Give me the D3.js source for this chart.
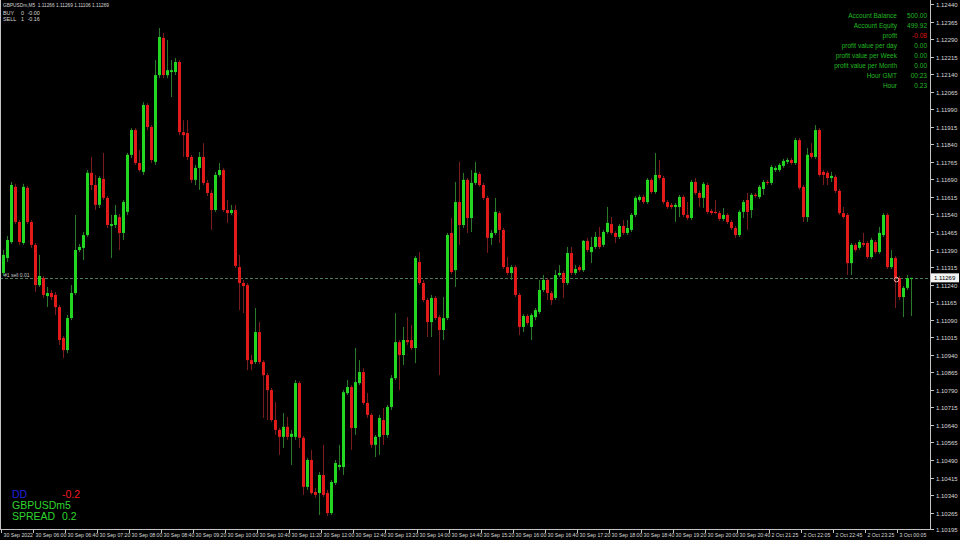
<!DOCTYPE html>
<html><head><meta charset="utf-8">
<script src="https://cdn.jsdelivr.net/npm/d3@7"></script>
<style>html,body{margin:0;padding:0;background:#000;}svg{display:block;}</style>
</head><body>
<script>
// ---- DATA (GBPUSDm, M5) ----
const openP = [
1.11290,1.11354,1.11422,1.11658,1.11508,1.11418,1.11654,1.11508,1.11410,1.11238,
1.11268,1.11191,1.11204,1.11196,1.11144,1.11012,1.10960,1.11097,1.11204,1.11388,
1.11397,1.11452,1.11718,1.11666,1.11581,1.11692,1.11611,1.11491,1.11495,1.11529,
1.11461,1.11551,1.11795,1.11901,1.11760,1.11722,1.12008,1.11914,1.11765,1.12136,
1.12295,1.12136,1.12149,1.12149,1.12192,1.11892,1.11888,1.11786,1.11688,1.11739,
1.11786,1.11675,1.11632,1.11559,1.11709,1.11730,1.11559,1.11546,1.11559,1.11315,
1.11247,1.11238,1.10917,1.10909,1.11037,1.10909,1.10853,1.10789,1.10661,1.10619,
1.10589,1.10632,1.10589,1.10589,1.10819,1.10585,1.10375,1.10490,1.10353,1.10349,
1.10426,1.10349,1.10263,1.10392,1.10460,1.10460,1.10776,1.10802,1.10627,1.10819,
1.10866,1.10734,1.10683,1.10555,1.10589,1.10661,1.10597,1.10717,1.10840,1.10994,
1.10939,1.11003,1.11003,1.10969,1.11337,1.11247,1.11174,1.11080,1.11183,1.11101,
1.11046,1.11097,1.11461,1.11302,1.11593,1.11495,1.11688,1.11525,1.11675,1.11713,
1.11666,1.11611,1.11440,1.11461,1.11546,1.11474,1.11315,1.11290,1.11315,1.11196,
1.11059,1.11106,1.11059,1.11101,1.11123,1.11217,1.11260,1.11204,1.11183,1.11281,
1.11290,1.11247,1.11375,1.11290,1.11315,1.11302,1.11427,1.11379,1.11401,1.11444,
1.11410,1.11465,1.11499,1.11461,1.11444,1.11491,1.11461,1.11474,1.11538,1.11602,
1.11615,1.11593,1.11688,1.11636,1.11709,1.11696,1.11593,1.11581,1.11572,1.11572,
1.11615,1.11538,1.11525,1.11679,1.11632,1.11611,1.11666,1.11555,1.11551,1.11546,
1.11521,1.11538,1.11508,1.11482,1.11452,1.11551,1.11602,1.11559,1.11624,1.11615,
1.11649,1.11679,1.11675,1.11730,1.11730,1.11748,1.11765,1.11773,1.11760,1.11858,
1.11658,1.11529,1.11803,1.11786,1.11901,1.11722,1.11718,1.11696,1.11701,1.11641,
1.11546,1.11538,1.11332,1.11410,1.11397,1.11418,1.11418,1.11358,1.11422,1.11379,
1.11452,1.11538,1.11315,1.11354,1.11268,1.11187,1.11226,1.11266];
const highP = [
1.11388,1.11448,1.11679,1.11671,1.11516,1.11671,1.11662,1.11516,1.11418,1.11367,
1.11277,1.11230,1.11217,1.11208,1.11153,1.11020,1.11110,1.11238,1.11538,1.11414,
1.11465,1.11730,1.11786,1.11709,1.11705,1.11803,1.11619,1.11538,1.11581,1.11542,
1.11602,1.11803,1.11909,1.11909,1.11816,1.12020,1.12016,1.11922,1.12200,1.12337,
1.12316,1.12286,1.12200,1.12209,1.12200,1.11943,1.11943,1.11795,1.11752,1.11807,
1.11845,1.11688,1.11645,1.11722,1.11760,1.11739,1.11602,1.11581,1.11581,1.11367,
1.11260,1.11247,1.10939,1.11140,1.11080,1.10917,1.10862,1.10798,1.10738,1.10627,
1.10691,1.10674,1.10619,1.10832,1.10827,1.10593,1.10499,1.10533,1.10371,1.10439,
1.10555,1.10362,1.10405,1.10490,1.10555,1.10789,1.10832,1.10810,1.10969,1.10917,
1.10883,1.10776,1.10691,1.10597,1.10683,1.10713,1.10726,1.10853,1.11118,1.11003,
1.11059,1.11101,1.11067,1.11362,1.11379,1.11260,1.11183,1.11196,1.11191,1.11110,
1.11187,1.11461,1.11525,1.11679,1.11765,1.11718,1.11696,1.11730,1.11765,1.11722,
1.11675,1.11619,1.11474,1.11611,1.11555,1.11482,1.11358,1.11324,1.11324,1.11204,
1.11114,1.11114,1.11118,1.11140,1.11260,1.11281,1.11268,1.11213,1.11302,1.11324,
1.11298,1.11401,1.11401,1.11324,1.11324,1.11431,1.11440,1.11444,1.11465,1.11487,
1.11474,1.11572,1.11529,1.11469,1.11499,1.11516,1.11516,1.11546,1.11619,1.11624,
1.11624,1.11696,1.11696,1.11803,1.11773,1.11705,1.11602,1.11589,1.11589,1.11624,
1.11624,1.11593,1.11688,1.11696,1.11641,1.11679,1.11675,1.11564,1.11602,1.11555,
1.11568,1.11546,1.11516,1.11491,1.11559,1.11602,1.11632,1.11632,1.11632,1.11666,
1.11688,1.11688,1.11752,1.11748,1.11760,1.11778,1.11782,1.11782,1.11867,1.11867,
1.11666,1.11824,1.11845,1.11922,1.11909,1.11730,1.11726,1.11722,1.11709,1.11649,
1.11572,1.11546,1.11418,1.11418,1.11431,1.11461,1.11427,1.11440,1.11431,1.11487,
1.11546,1.11546,1.11388,1.11362,1.11277,1.11234,1.11281,1.11269];
const lowP = [
1.11277,1.11337,1.11414,1.11499,1.11410,1.11410,1.11499,1.11397,1.11208,1.11230,
1.11183,1.11144,1.11174,1.11110,1.10982,1.10926,1.10947,1.11088,1.11196,1.11379,
1.11345,1.11444,1.11645,1.11559,1.11568,1.11602,1.11482,1.11354,1.11482,1.11388,
1.11431,1.11538,1.11782,1.11752,1.11722,1.11709,1.11901,1.11760,1.11752,1.12123,
1.12123,1.12123,1.12042,1.12136,1.11879,1.11786,1.11773,1.11675,1.11666,1.11645,
1.11666,1.11619,1.11474,1.11551,1.11701,1.11551,1.11504,1.11538,1.11311,1.11131,
1.11118,1.10874,1.10874,1.10900,1.10900,1.10670,1.10661,1.10653,1.10597,1.10512,
1.10542,1.10576,1.10469,1.10576,1.10542,1.10341,1.10362,1.10341,1.10328,1.10255,
1.10332,1.10251,1.10255,1.10383,1.10447,1.10426,1.10768,1.10533,1.10597,1.10810,
1.10726,1.10670,1.10542,1.10503,1.10512,1.10555,1.10585,1.10704,1.10832,1.10789,
1.10896,1.10982,1.10960,1.10904,1.11238,1.11165,1.11016,1.11016,1.11088,1.10853,
1.11003,1.11088,1.11285,1.11230,1.11410,1.11482,1.11461,1.11465,1.11666,1.11658,
1.11602,1.11375,1.11410,1.11452,1.11418,1.11307,1.11281,1.11260,1.11187,1.11024,
1.11037,1.11067,1.11003,1.11088,1.11114,1.11208,1.11174,1.11153,1.11174,1.11273,
1.11183,1.11238,1.11281,1.11281,1.11294,1.11294,1.11379,1.11332,1.11392,1.11392,
1.11401,1.11457,1.11452,1.11418,1.11435,1.11452,1.11452,1.11465,1.11529,1.11593,
1.11585,1.11585,1.11628,1.11628,1.11688,1.11585,1.11564,1.11564,1.11508,1.11529,
1.11529,1.11516,1.11516,1.11624,1.11572,1.11568,1.11542,1.11538,1.11542,1.11512,
1.11512,1.11499,1.11474,1.11440,1.11444,1.11525,1.11474,1.11525,1.11611,1.11606,
1.11624,1.11666,1.11666,1.11722,1.11722,1.11739,1.11756,1.11752,1.11752,1.11645,
1.11508,1.11508,1.11778,1.11778,1.11701,1.11666,1.11666,1.11679,1.11632,1.11538,
1.11521,1.11281,1.11281,1.11379,1.11388,1.11401,1.11350,1.11350,1.11371,1.11371,
1.11444,1.11307,1.11307,1.11140,1.11174,1.11101,1.11217,1.11106];
const closeP = [
1.11367,1.11431,1.11666,1.11508,1.11422,1.11658,1.11508,1.11410,1.11238,1.11277,
1.11196,1.11204,1.11187,1.11144,1.11003,1.10960,1.11097,1.11204,1.11388,1.11401,
1.11452,1.11718,1.11666,1.11581,1.11696,1.11611,1.11495,1.11499,1.11538,1.11461,
1.11593,1.11795,1.11901,1.11760,1.11730,1.12008,1.11914,1.11773,1.12136,1.12299,
1.12136,1.12157,1.12157,1.12192,1.11892,1.11879,1.11786,1.11688,1.11739,1.11786,
1.11675,1.11632,1.11559,1.11709,1.11730,1.11559,1.11546,1.11559,1.11320,1.11247,
1.11234,1.10917,1.10900,1.11037,1.10909,1.10853,1.10789,1.10661,1.10619,1.10589,
1.10632,1.10589,1.10602,1.10819,1.10585,1.10375,1.10490,1.10349,1.10341,1.10426,
1.10341,1.10263,1.10396,1.10477,1.10469,1.10780,1.10802,1.10627,1.10823,1.10866,
1.10734,1.10683,1.10555,1.10589,1.10670,1.10597,1.10717,1.10840,1.10994,1.10939,
1.11003,1.10994,1.10969,1.11354,1.11247,1.11174,1.11080,1.11183,1.11097,1.11046,
1.11097,1.11452,1.11294,1.11593,1.11495,1.11688,1.11525,1.11675,1.11718,1.11666,
1.11611,1.11440,1.11461,1.11551,1.11474,1.11315,1.11290,1.11315,1.11196,1.11059,
1.11106,1.11076,1.11110,1.11131,1.11217,1.11260,1.11204,1.11174,1.11281,1.11290,
1.11247,1.11375,1.11290,1.11307,1.11302,1.11427,1.11388,1.11401,1.11444,1.11401,
1.11465,1.11504,1.11461,1.11444,1.11491,1.11461,1.11482,1.11538,1.11611,1.11615,
1.11593,1.11688,1.11636,1.11709,1.11696,1.11593,1.11572,1.11572,1.11581,1.11615,
1.11538,1.11525,1.11679,1.11632,1.11611,1.11671,1.11551,1.11546,1.11546,1.11521,
1.11538,1.11508,1.11482,1.11452,1.11551,1.11593,1.11551,1.11624,1.11619,1.11658,
1.11679,1.11675,1.11743,1.11739,1.11752,1.11769,1.11773,1.11760,1.11858,1.11654,
1.11529,1.11795,1.11786,1.11901,1.11709,1.11709,1.11696,1.11705,1.11641,1.11546,
1.11529,1.11332,1.11410,1.11388,1.11422,1.11410,1.11358,1.11431,1.11379,1.11461,
1.11538,1.11315,1.11354,1.11268,1.11187,1.11226,1.11268,1.11269];

const timeTickLabels = ["30 Sep 2022","30 Sep 06:00","30 Sep 06:40","30 Sep 07:20","30 Sep 08:00","30 Sep 08:40",
"30 Sep 09:20","30 Sep 10:00","30 Sep 10:40","30 Sep 11:20","30 Sep 12:00","30 Sep 12:40","30 Sep 13:20",
"30 Sep 14:00","30 Sep 14:40","30 Sep 15:20","30 Sep 16:00","30 Sep 16:40","30 Sep 17:20","30 Sep 18:00",
"30 Sep 18:40","30 Sep 19:20","30 Sep 20:00","30 Sep 20:40","2 Oct 21:25","2 Oct 22:05","2 Oct 22:45",
"2 Oct 23:25","3 Oct 00:05"];
const timeTickBars = [0,8,16,24,32,40,48,56,64,72,80,88,96,104,112,120,128,136,144,152,160,168,176,184,192,200,208,216,224];
const priceTicks = [1.12440,1.12365,1.12290,1.12215,1.12140,1.12065,1.11990,1.11915,1.11840,1.11765,1.11690,
1.11615,1.11540,1.11465,1.11390,1.11315,1.11240,1.11165,1.11090,1.11015,1.10940,1.10865,1.10790,1.10715,
1.10640,1.10565,1.10490,1.10415,1.10340,1.10265,1.10195];
const bidPrice = 1.11269;
const orderPrice = 1.11268;
const orderBar = 223;
const orderLabel = "#1 sell 0.01";
const headerLine = "GBPUSDm,M5  1.11266 1.11269 1.11106 1.11269";
const tradeRows = [["BUY","0","-0.00"],["SELL","1","-0.16"]];
const infoLabels = ["Account Balance","Account Equity","profit","profit value per day","profit value per Week","profit value per Month","Hour GMT","Hour"];
const infoValues = ["500.00","499.92","-0.08","0.00","0.00","0.00","00:23","0.23"];
const ddValue = "-0.2", symbolName = "GBPUSDm5", spreadValue = "0.2";

// ---- DRAW ----
const W = 960, H = 540, plotR = 930, plotB = 529;
const svg = d3.select("body").append("svg").attr("width", W).attr("height", H)
  .style("background", "#000");
svg.append("rect").attr("width", W).attr("height", H).attr("fill", "#000");

const x = d3.scaleLinear().domain([-0.5, 231.5]).range([1, 929]);
const y = d3.scaleLinear().domain([1.10195, 1.12440]).range([529, 4]);

const FONT = "'Liberation Sans', Arial, sans-serif";
const bars = d3.range(openP.length).map(i => ({i, o: openP[i], h: highP[i], l: lowP[i], c: closeP[i]}));

// order line
const oy = Math.round(y(orderPrice)) + 0.5;
svg.append("line").attr("x1", 0).attr("x2", plotR).attr("y1", oy).attr("y2", oy)
  .attr("stroke", "#4f7a55").attr("stroke-width", 1).attr("stroke-dasharray", "3,2");

// candles
const g = svg.append("g");
g.selectAll("line.wick").data(bars).join("line").attr("class", "wick")
  .attr("x1", d => Math.round(x(d.i)) + 0.5).attr("x2", d => Math.round(x(d.i)) + 0.5)
  .attr("y1", d => y(d.h)).attr("y2", d => y(d.l))
  .attr("stroke", d => d.c >= d.o ? "#2b7a2b" : "#7a1c1c").attr("stroke-width", 1);
g.selectAll("rect.body").data(bars).join("rect").attr("class", "body")
  .attr("x", d => Math.round(x(d.i)) - 1).attr("width", 3)
  .attr("y", d => y(Math.max(d.o, d.c)))
  .attr("height", d => Math.max(1, Math.abs(y(d.o) - y(d.c))))
  .attr("fill", d => d.c >= d.o ? "#22d622" : "#e21a1a");

svg.append("text").attr("x", 4).attr("y", oy - 1.5).text(orderLabel)
  .attr("font-family", FONT).attr("font-size", 5).attr("fill", "#c8c8c8");
svg.append("circle").attr("cx", Math.round(x(orderBar)) + 1.5).attr("cy", y(orderPrice) + 1.5).attr("r", 2.3)
  .attr("fill", "none").attr("stroke", "#ff9c9c").attr("stroke-width", 1);

// frame
const frameColor = "#c4c4c4";
svg.append("line").attr("x1", 0.5).attr("x2", 0.5).attr("y1", 0).attr("y2", plotB).attr("stroke", frameColor);
svg.append("line").attr("x1", plotR + 0.5).attr("x2", plotR + 0.5).attr("y1", 0).attr("y2", plotB + 1).attr("stroke", frameColor);
svg.append("line").attr("x1", 0).attr("x2", plotR + 1).attr("y1", plotB + 0.5).attr("y2", plotB + 0.5).attr("stroke", frameColor);

// right price axis
const pa = svg.append("g");
priceTicks.forEach(p => {
  const yy = Math.round(y(p)) + 0.5;
  pa.append("line").attr("x1", plotR).attr("x2", plotR + 4).attr("y1", yy).attr("y2", yy).attr("stroke", frameColor);
  pa.append("text").attr("x", 936).attr("y", yy + 2).text(p.toFixed(5))
    .attr("font-family", FONT).attr("font-size", 6).attr("fill", "#d8d8d8");
});
// bid label
const by = y(bidPrice);
svg.append("rect").attr("x", 931).attr("y", by - 4.5).attr("width", 28).attr("height", 9).attr("fill", "#f4f4f4");
svg.append("text").attr("x", 934).attr("y", by + 2.2).text(bidPrice.toFixed(5))
  .attr("font-family", FONT).attr("font-size", 6).attr("fill", "#000");

// bottom time axis
const ta = svg.append("g");
timeTickBars.forEach((b, k) => {
  const xx = Math.round(x(b - 0.5)) + 0.5;
  ta.append("line").attr("x1", xx).attr("x2", xx).attr("y1", plotB).attr("y2", plotB + 4).attr("stroke", frameColor);
  ta.append("text").attr("x", xx + 2).attr("y", 536.5).text(timeTickLabels[k])
    .attr("font-family", FONT).attr("font-size", 5.2).attr("fill", "#d8d8d8");
});

// header top-left
svg.append("text").attr("x", 3).attr("y", 7.2).text(headerLine).attr("textLength", 106).attr("lengthAdjust", "spacingAndGlyphs")
  .attr("font-family", FONT).attr("font-size", 5.4).attr("fill", "#d8d8d8").style("white-space", "pre");
tradeRows.forEach((r, k) => {
  const yy = 14.5 + k * 6;
  [3, 21, 27.5].forEach((xx, j) => svg.append("text").attr("x", xx).attr("y", yy).text(r[j])
    .attr("font-family", FONT).attr("font-size", 5.4).attr("fill", "#d8d8d8"));
});

// info panel top-right
infoLabels.forEach((lab, k) => {
  const yy = 18 + k * 10;
  svg.append("text").attr("x", 897).attr("y", yy).attr("text-anchor", "end").text(lab)
    .attr("font-family", FONT).attr("font-size", 6.5).attr("fill", "#22b822");
  svg.append("text").attr("x", 927).attr("y", yy).attr("text-anchor", "end").text(infoValues[k])
    .attr("font-family", FONT).attr("font-size", 6.5).attr("fill", k === 2 ? "#dd1111" : "#22b822");
});

// bottom-left block
const bl = [["DD", 12, 498, "#2222dd"], [ddValue, 62, 498, "#ee1c1c"], [symbolName, 12, 509, "#2ed62e"],
            ["SPREAD", 12, 520, "#2ed62e"], [spreadValue, 62, 520, "#2ed62e"]];
bl.forEach(t => svg.append("text").attr("x", t[1]).attr("y", t[2]).text(t[0])
  .attr("font-family", FONT).attr("font-size", 10.5).attr("fill", t[3]));
</script>
</body></html>
